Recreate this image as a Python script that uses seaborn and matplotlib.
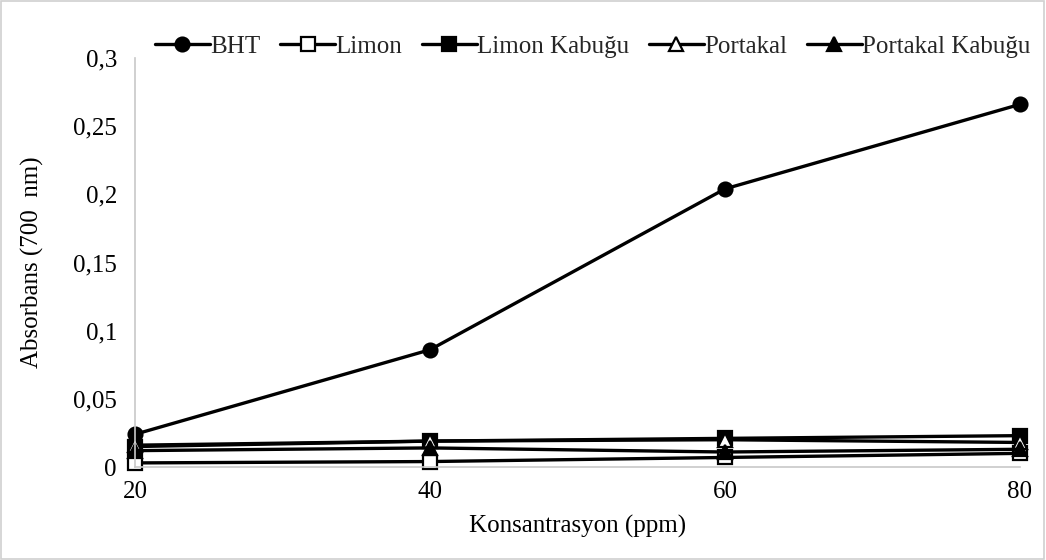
import matplotlib
matplotlib.use("Agg")
import matplotlib.pyplot as plt
import seaborn as sns
import pandas as pd
from matplotlib.patches import Rectangle

sns.set_theme(style="white")
plt.rcParams['font.family'] = ['Liberation Serif', 'DejaVu Serif']

concentrations = [20, 40, 60, 80]
bht = [0.024, 0.086, 0.204, 0.266]
limon = [0.003, 0.004, 0.007, 0.010]
limon_kabugu = [0.015, 0.019, 0.021, 0.023]
portakal = [0.016, 0.019, 0.020, 0.018]
portakal_kabugu = [0.012, 0.014, 0.011, 0.013]

series_names = ["BHT", "Limon", "Limon Kabuğu", "Portakal", "Portakal Kabuğu"]
series_values = [bht, limon, limon_kabugu, portakal, portakal_kabugu]
markers = ["o", "s", "s", "^", "^"]
facecolors = ["black", "white", "black", "white", "black"]
y_ticks = [0, 0.05, 0.1, 0.15, 0.2, 0.25, 0.3]
y_tick_labels = ["0", "0,05", "0,1", "0,15", "0,2", "0,25", "0,3"]

df = pd.DataFrame({
    "Konsantrasyon": concentrations * len(series_names),
    "Absorbans": [v for vals in series_values for v in vals],
    "Seri": [n for n in series_names for _ in concentrations],
})

FS = 18

fig = plt.figure(figsize=(10.46, 5.6), dpi=100)
ax = fig.add_axes([135 / 1046, 1 - 467 / 560, (1020 - 135) / 1046, (467 - 58) / 560])

for name, m, fc in zip(series_names, markers, facecolors):
    sub = df[df["Seri"] == name]
    sns.lineplot(data=sub, x="Konsantrasyon", y="Absorbans", ax=ax,
                 color="black", linewidth=2.4, marker=m, markersize=10,
                 markerfacecolor=fc, markeredgecolor="black", markeredgewidth=1.6,
                 label=name, clip_on=False)

ax.set_xlim(20, 80)
ax.set_ylim(0, 0.3)
ax.set_xticks(concentrations)
ax.set_xticklabels([str(c) for c in concentrations])
ax.set_yticks(y_ticks)
ax.set_yticklabels(y_tick_labels)
ax.tick_params(axis="y", labelsize=FS, colors="black", length=0, pad=13)
ax.tick_params(axis="x", labelsize=FS, labelcolor="black", length=5, color="#c8c8c8",
               direction="out", pad=5)

for side in ["top", "right"]:
    ax.spines[side].set_visible(False)
for side in ["left", "bottom"]:
    ax.spines[side].set_color("#c8c8c8")
    ax.spines[side].set_linewidth(1.2)

ax.set_xlabel("Konsantrasyon (ppm)", fontsize=FS, color="black", labelpad=9)
ax.set_ylabel("Absorbans (700  nm)", fontsize=FS, color="black", labelpad=21)

leg = ax.legend(loc="lower center", bbox_to_anchor=(0.517, 0.975), ncol=5, frameon=False,
                fontsize=FS, handlelength=2.2, handletextpad=0.0, columnspacing=0.8,
                borderaxespad=0)

fig.patches.append(Rectangle((0.001, 0.001), 0.997, 0.997, transform=fig.transFigure,
                             fill=False, edgecolor="#d0d0d0", linewidth=1.2))

fig.savefig("out.png", dpi=100, facecolor="white")
